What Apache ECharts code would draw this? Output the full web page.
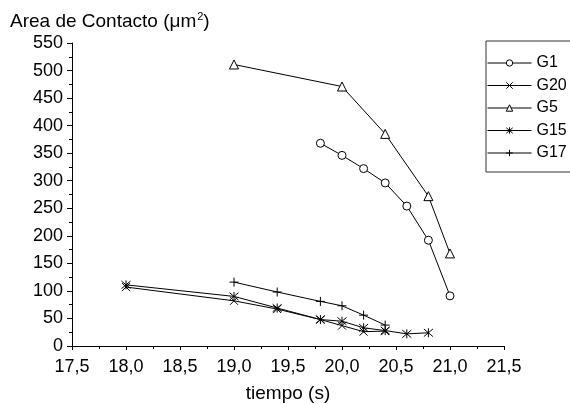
<!DOCTYPE html>
<html>
<head>
<meta charset="utf-8">
<script src="https://cdn.jsdelivr.net/npm/echarts@6/dist/echarts.min.js"></script>
<style>
  html, body { margin: 0; padding: 0; background: #fff; }
  #areaChart { width: 570px; height: 404px; }
</style>
</head>
<body>
<div id="areaChart"></div>
<script>
// tiempo (s) y area de contacto de cada grupo
const g1X = [19.8, 20.0, 20.2, 20.4, 20.6, 20.8, 21.0]
const g1Y = [368, 346, 322, 296, 254, 192, 91]
const g20X = [18.0, 19.0, 19.4, 19.8, 20.0, 20.2, 20.4]
const g20Y = [107, 82, 67, 48, 37, 26, 27]
const g5X = [19.0, 20.0, 20.4, 20.8, 21.0]
const g5Y = [511, 471, 385, 272, 168]
const g15X = [18.0, 19.0, 19.4, 19.8, 20.0, 20.2, 20.4, 20.6, 20.8]
const g15Y = [111, 90, 69, 48, 45, 33, 28, 22, 24]
const g17X = [19.0, 19.4, 19.8, 20.0, 20.2, 20.4]
const g17Y = [116, 98, 81, 73, 56, 38]

const FONT = '"Liberation Sans", Arial, sans-serif'

const symX = 'path://M0,0 L10,10 M10,0 L0,10'
const symStar = 'path://M0,0 L10,10 M10,0 L0,10 M5,-1 L5,11'
const symPlus = 'path://M5,0 L5,10 M0,5 L10,5'

function pairs(xs, ys) {
  return xs.map((x, i) => [x, ys[i]])
}

function makeSeries(name, xs, ys, symbol, size, hollow) {
  return {
    name: name,
    type: 'line',
    data: pairs(xs, ys),
    symbol: symbol,
    symbolSize: size,
    showAllSymbol: true,
    lineStyle: { color: '#000', width: 1 },
    itemStyle: {
      color: hollow ? '#fff' : 'rgba(0,0,0,0)',
      borderColor: '#000',
      borderWidth: 1
    },
    emphasis: { disabled: true },
    z: 3
  }
}

const chart = echarts.init(document.getElementById('areaChart'))
const option = {
  animation: false,
  backgroundColor: '#fff',
  title: {
    text: 'Area de Contacto (μm{sup|2})',
    left: 5,
    top: 6,
    textStyle: {
      fontFamily: FONT,
      fontSize: 19,
      fontWeight: 'normal',
      color: '#000',
      rich: {
        sup: { fontFamily: FONT, fontSize: 11, color: '#000', verticalAlign: 'top', padding: [0, 0, 10, 1] }
      }
    }
  },
  legend: {
    orient: 'vertical',
    left: 486,
    top: 41,
    padding: [14, 60, 11, 1],
    itemWidth: 44,
    itemHeight: 8,
    itemGap: 6.5,
    borderColor: '#333',
    borderWidth: 1,
    lineStyle: { width: 1 },
    itemStyle: { borderWidth: 1 },
    textStyle: { fontFamily: FONT, fontSize: 16, color: '#000' },
    data: ['G1', 'G20', 'G5', 'G15', 'G17']
  },
  grid: {
    left: 72,
    right: 66,
    top: 43,
    bottom: 58,
    outerBoundsMode: 'none'
  },
  xAxis: {
    type: 'value',
    min: 17.5,
    max: 21.5,
    interval: 0.5,
    name: 'tiempo (s)',
    nameLocation: 'middle',
    nameGap: 38,
    nameTextStyle: { fontFamily: FONT, fontSize: 19, color: '#000' },
    axisLine: { onZero: false, lineStyle: { color: '#000', width: 1 } },
    axisTick: { length: 4, lineStyle: { color: '#000' } },
    minorTick: { show: true, splitNumber: 2, length: 3, lineStyle: { color: '#000' } },
    splitLine: { show: false },
    axisLabel: {
      fontFamily: FONT,
      fontSize: 18,
      color: '#000',
      margin: 12,
      formatter: v => v.toFixed(1).replace('.', ',')
    }
  },
  yAxis: {
    type: 'value',
    min: 0,
    max: 550,
    interval: 50,
    axisLine: { show: true, lineStyle: { color: '#000', width: 1 } },
    axisTick: { show: true, length: 5, lineStyle: { color: '#000' } },
    minorTick: { show: true, splitNumber: 2, length: 3, lineStyle: { color: '#000' } },
    splitLine: { show: false },
    axisLabel: { fontFamily: FONT, fontSize: 18, color: '#000', margin: 9 }
  },
  series: [
    makeSeries('G1', g1X, g1Y, 'circle', 8, true),
    makeSeries('G20', g20X, g20Y, symX, 8, false),
    makeSeries('G5', g5X, g5Y, 'triangle', 9, true),
    makeSeries('G15', g15X, g15Y, symStar, 9, false),
    makeSeries('G17', g17X, g17Y, symPlus, 9, false)
  ]
}
chart.setOption(option)
</script>
</body>
</html>
